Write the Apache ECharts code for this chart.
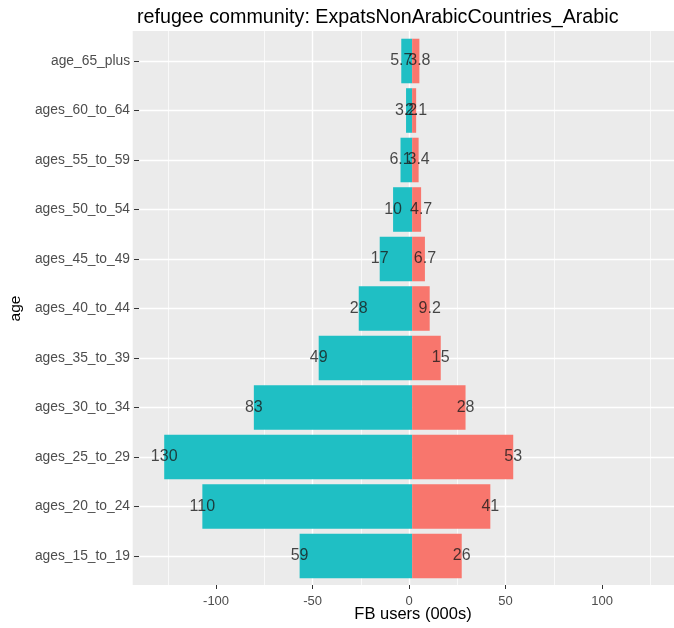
<!DOCTYPE html>
<html>
<head>
<meta charset="utf-8">
<script src="https://cdn.jsdelivr.net/npm/echarts@6/dist/echarts.min.js"></script>
<style>html,body{margin:0;padding:0;background:#fff}#c{width:674px;height:628px}</style>
</head>
<body>
<div id="c"></div>
<script>
const categories = ['ages_15_to_19','ages_20_to_24','ages_25_to_29','ages_30_to_34','ages_35_to_39','ages_40_to_44','ages_45_to_49','ages_50_to_54','ages_55_to_59','ages_60_to_64','age_65_plus'];
const leftValues = [59, 110, 130, 83, 49, 28, 17, 10, 6.1, 3.2, 5.7];
const rightValues = [26, 41, 53, 28, 15, 9.2, 6.7, 4.7, 3.4, 2.1, 3.8];
const xTicks = [-100, -50, 0, 50, 100];
const xMin = -143.2, xMax = 137.3;

const FONT = 'Liberation Sans, Arial, sans-serif';
const chart = echarts.init(document.getElementById('c'), null, {renderer: 'canvas'});

const labelStyle = {show: true, position: 'inside', fontFamily: FONT, fontSize: 16, color: '#1a1a1a'};

chart.setOption({
  animation: false,
  backgroundColor: '#ffffff',
  title: [
    {text: 'refugee community: ExpatsNonArabicCountries_Arabic', left: 132, top: 3,
     textStyle: {fontFamily: FONT, fontSize: 19.7, fontWeight: 'normal', color: '#000'}},
    {text: 'FB users (000s)', left: 408, top: 601, textAlign: 'center',
     textStyle: {fontFamily: FONT, fontSize: 16.5, fontWeight: 'normal', color: '#000'}}
  ],
  grid: [
    {left: 132.7, right: 0, top: 31, bottom: 43, show: true, backgroundColor: '#EBEBEB', borderWidth: 0},
    {left: 132.7, right: 0, top: 61, bottom: 72, show: false}
  ],
  xAxis: [
    {type: 'value', gridIndex: 0, min: xMin, max: xMax, splitNumber: 5,
     axisLine: {show: false, onZero: false},
     axisTick: {show: true, length: 4, lineStyle: {color: '#333', width: 1}, customValues: xTicks},
     axisLabel: {show: true, customValues: xTicks, fontFamily: FONT, fontSize: 13, color: '#4D4D4D', margin: 10},
     splitLine: {show: true, showMinLine: false, showMaxLine: false, lineStyle: {color: '#ffffff', width: 1.4}},
     minorTick: {show: false, splitNumber: 2},
     minorSplitLine: {show: true, lineStyle: {color: '#ffffff', width: 0.7}}
    },
    {type: 'value', gridIndex: 1, min: xMin, max: xMax, show: false, splitLine: {show: false}}
  ],
  yAxis: [
    {type: 'value', gridIndex: 0, min: 0, max: 1, show: false, splitLine: {show: false}},
    {type: 'category', gridIndex: 1, data: categories, boundaryGap: false, position: 'left',
     axisLine: {show: false, onZero: false},
     axisTick: {show: true, length: 5, lineStyle: {color: '#333', width: 1}},
     axisLabel: {fontFamily: FONT, fontSize: 13.8, color: '#4D4D4D', margin: 9},
     splitLine: {show: true, lineStyle: {color: '#ffffff', width: 1.4}},
     name: 'age', nameLocation: 'middle', nameRotate: 90, nameGap: 115,
     nameTextStyle: {fontFamily: FONT, fontSize: 15.5, color: '#000'}
    }
  ],
  series: [
    {type: 'bar', xAxisIndex: 1, yAxisIndex: 1, data: leftValues.map(v => -v), barWidth: '90%', barGap: '-100%', clip: false,
     itemStyle: {color: '#1FBFC4'}},
    {type: 'bar', xAxisIndex: 1, yAxisIndex: 1, data: rightValues, barWidth: '90%', barGap: '-100%', clip: false,
     itemStyle: {color: '#F8766D'}},
    {type: 'scatter', xAxisIndex: 1, yAxisIndex: 1, symbolSize: 0, clip: false, z: 5,
     data: leftValues.map((v, i) => [-v, categories[i]]),
     label: Object.assign({}, labelStyle, {formatter: p => String(-p.value[0])})},
    {type: 'scatter', xAxisIndex: 1, yAxisIndex: 1, symbolSize: 0, clip: false, z: 6,
     data: rightValues.map((v, i) => [v, categories[i]]),
     label: Object.assign({}, labelStyle, {formatter: p => String(p.value[0])})}
  ]
});
</script>
</body>
</html>
